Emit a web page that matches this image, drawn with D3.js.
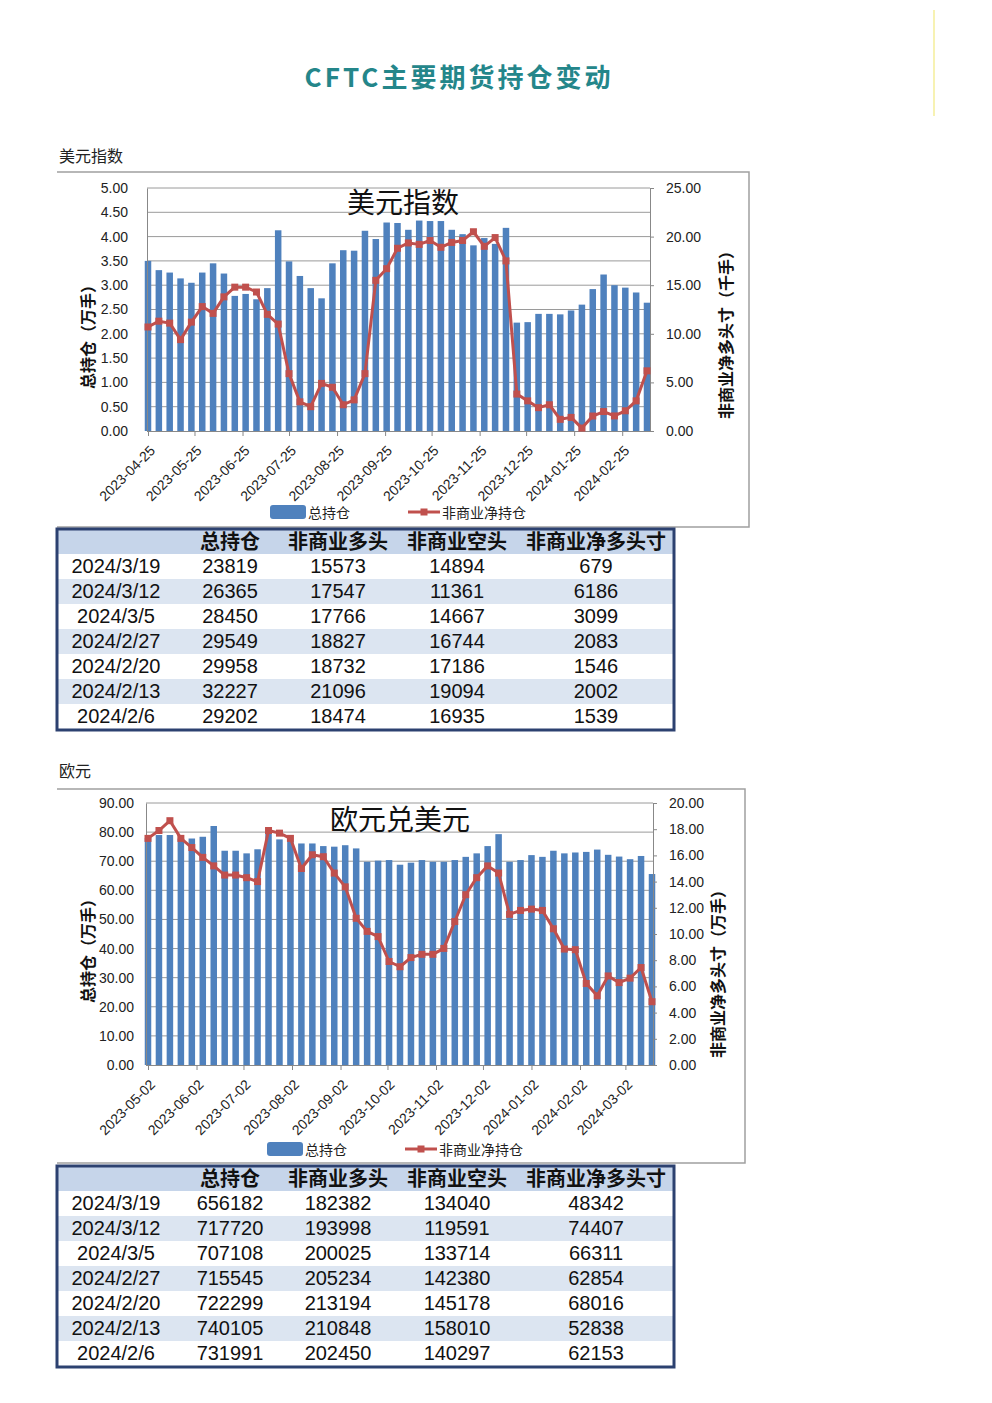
<!DOCTYPE html>
<html>
<head>
<meta charset="utf-8">
<script src="https://cdn.jsdelivr.net/npm/d3@7"></script>
<style>
  body { margin: 0; background: #fff; }
  svg text { font-family: "Liberation Sans", Arial, "Noto Sans CJK SC", sans-serif; fill: #222; }
  .cjk { font-family: "Noto Sans CJK SC", sans-serif; }
</style>
</head>
<body>
<svg id="page" width="992" height="1403"></svg>
<script>
// weekly report dates (CFTC, Tuesdays)
var weeks = ["2023-04-25","2023-05-02","2023-05-09","2023-05-16","2023-05-23","2023-05-30",
  "2023-06-06","2023-06-13","2023-06-20","2023-06-27","2023-07-04","2023-07-11","2023-07-18",
  "2023-07-25","2023-08-01","2023-08-08","2023-08-15","2023-08-22","2023-08-29","2023-09-05",
  "2023-09-12","2023-09-19","2023-09-26","2023-10-03","2023-10-10","2023-10-17","2023-10-24",
  "2023-10-31","2023-11-07","2023-11-14","2023-11-21","2023-11-28","2023-12-05","2023-12-12",
  "2023-12-19","2023-12-26","2024-01-02","2024-01-09","2024-01-16","2024-01-23","2024-01-30",
  "2024-02-06","2024-02-13","2024-02-20","2024-02-27","2024-03-05","2024-03-12","2024-03-19"];

// 美元指数
var usdDates = weeks.slice(0, 47);
var usdTicks = ["2023-04-25","2023-05-25","2023-06-25","2023-07-25","2023-08-25","2023-09-25",
  "2023-10-25","2023-11-25","2023-12-25","2024-01-25","2024-02-25"];
var usdTotal = [3.50,3.31,3.26,3.14,3.05,3.26,3.45,3.24,2.78,2.82,2.71,2.94,
  4.13,3.49,3.19,2.94,2.73,3.45,3.72,3.71,4.12,3.95,4.29,4.28,
  4.14,4.33,4.32,4.32,4.14,4.05,3.82,3.97,3.85,4.18,2.23,2.24,
  2.41,2.41,2.40,2.48,2.60,2.92,3.22,3.00,2.95,2.85,2.64];
var usdNet = [10.7,11.3,11.1,9.4,11.2,12.8,12.1,13.8,14.8,14.8,14.3,12.0,
  11.0,5.9,3.0,2.5,4.9,4.5,2.7,3.2,5.9,15.5,16.7,18.8,
  19.35,19.2,19.6,18.9,19.4,19.6,20.5,19.0,19.9,17.5,3.8,3.1,
  2.4,2.7,1.2,1.4,0.3,1.54,2.0,1.55,2.08,3.1,6.19];

// 欧元兑美元
var eurDates = weeks.slice(1);
var eurTicks = ["2023-05-02","2023-06-02","2023-07-02","2023-08-02","2023-09-02","2023-10-02",
  "2023-11-02","2023-12-02","2024-01-02","2024-02-02","2024-03-02"];
var eurTotal = [78.0,79.0,79.0,77.8,77.8,78.4,82.1,73.6,73.6,72.7,74.1,79.5,
  77.5,77.0,76.1,76.1,75.2,75.0,75.5,74.4,69.8,70.2,70.4,68.8,
  69.5,70.4,69.8,69.8,70.4,71.5,72.7,75.2,79.3,69.8,70.4,72.1,
  71.5,73.6,72.7,73.0,73.2,74.0,72.2,71.6,70.7,71.8,65.6];
var eurNet = [17.3,17.9,18.65,17.3,16.6,15.85,15.2,14.5,14.5,14.3,14.0,17.9,
  17.7,17.3,15.0,16.05,15.9,14.65,13.6,11.2,10.2,9.8,7.9,7.5,
  8.2,8.45,8.45,8.9,10.95,13.0,14.3,15.2,14.65,11.5,11.8,11.9,
  11.8,10.4,8.85,8.8,6.22,5.28,6.80,6.29,6.63,7.44,4.83];

// tables
var tableHead = ["", "总持仓", "非商业多头", "非商业空头", "非商业净多头寸"];
var usdRows = [
  ["2024/3/19", 23819, 15573, 14894, 679],
  ["2024/3/12", 26365, 17547, 11361, 6186],
  ["2024/3/5", 28450, 17766, 14667, 3099],
  ["2024/2/27", 29549, 18827, 16744, 2083],
  ["2024/2/20", 29958, 18732, 17186, 1546],
  ["2024/2/13", 32227, 21096, 19094, 2002],
  ["2024/2/6", 29202, 18474, 16935, 1539]
];
var eurRows = [
  ["2024/3/19", 656182, 182382, 134040, 48342],
  ["2024/3/12", 717720, 193998, 119591, 74407],
  ["2024/3/5", 707108, 200025, 133714, 66311],
  ["2024/2/27", 715545, 205234, 142380, 62854],
  ["2024/2/20", 722299, 213194, 145178, 68016],
  ["2024/2/13", 740105, 210848, 158010, 52838],
  ["2024/2/6", 731991, 202450, 140297, 62153]
];

var parse = d3.timeParse("%Y-%m-%d");
var barColor = "#4f81bd", lineColor = "#c0504d", gridColor = "#9a9a9a";

var svg = d3.select("#page");

// page title
svg.append("text")
  .attr("class", "cjk")
  .attr("x", 459).attr("y", 87)
  .attr("text-anchor", "middle")
  .style("font-size", "26px").style("font-weight", "bold")
  .style("letter-spacing", "3px")
  .style("fill", "#24868a")
  .text("CFTC主要期货持仓变动");

svg.append("line")
  .attr("x1", 934).attr("x2", 934).attr("y1", 10).attr("y2", 116)
  .attr("stroke", "#f5ee9a").attr("stroke-width", 1.5);

function drawChart(o) {
  var g = svg.append("g");
  var dates = o.dates.map(parse);

  var x = d3.scaleTime()
      .domain([dates[0], dates[dates.length - 1]])
      .range([o.x0, o.x1]);
  var yL = d3.scaleLinear().domain([0, o.leftMax]).range([o.yBottom, o.yTop]);
  var yR = d3.scaleLinear().domain([0, o.rightMax]).range([o.yBottom, o.yTop]);

  // frame (top, right, bottom)
  g.append("path")
    .attr("d", "M" + o.fx0 + "," + o.fy0 + "H" + o.fx1 + "V" + o.fy1 + "H" + o.fx0)
    .attr("fill", "none").attr("stroke", "#a0a0a0").attr("stroke-width", 1.5);

  var leftTicks = d3.range(0, o.leftMax + 1e-9, o.leftStep);
  var rightTicks = d3.range(0, o.rightMax + 1e-9, o.rightStep);

  // gridlines
  g.append("g").selectAll("line")
    .data(leftTicks.slice(1))
    .enter().append("line")
    .attr("x1", o.axL).attr("x2", o.axR)
    .attr("y1", function(d){ return yL(d); })
    .attr("y2", function(d){ return yL(d); })
    .attr("stroke", gridColor).attr("stroke-width", 1);

  // bars
  g.append("g").selectAll("rect")
    .data(o.total)
    .enter().append("rect")
    .attr("x", function(d, i){ return x(dates[i]) - o.bw / 2; })
    .attr("y", function(d){ return yL(d); })
    .attr("width", o.bw)
    .attr("height", function(d){ return o.yBottom - yL(d); })
    .attr("fill", barColor);

  // axes
  var left = g.append("g")
    .attr("transform", "translate(" + o.axL + ",0)")
    .call(d3.axisLeft(yL).tickValues(leftTicks).tickFormat(d3.format(".2f"))
      .tickSize(0).tickPadding(o.leftPad));
  left.select(".domain").attr("stroke", "#888");
  left.selectAll("text").style("font-size", "14px").style("fill", "#222");

  var right = g.append("g")
    .attr("transform", "translate(" + o.axR + ",0)")
    .call(d3.axisRight(yR).tickValues(rightTicks).tickFormat(d3.format(".2f"))
      .tickSize(4).tickPadding(12));
  right.select(".domain").attr("stroke", "#888");
  right.selectAll("line").attr("stroke", "#888");
  right.selectAll("text").style("font-size", "14px").style("fill", "#222");

  var bottom = g.append("g")
    .attr("transform", "translate(0," + o.yBottom + ")")
    .call(d3.axisBottom(x).tickValues(o.ticks.map(parse))
      .tickFormat(d3.timeFormat("%Y-%m-%d")).tickSize(5));
  bottom.select(".domain")
    .attr("d", "M" + o.axL + ",0.5H" + o.axR)
    .attr("stroke", "#888");
  bottom.selectAll("line").attr("stroke", "#888");
  bottom.selectAll("text")
    .attr("x", 0).attr("y", 0).attr("dy", "0.35em")
    .attr("text-anchor", "end")
    .attr("transform", "translate(4,17) rotate(-45)")
    .style("font-size", "14px").style("fill", "#222");

  // net position line
  var line = d3.line()
    .x(function(d, i){ return x(dates[i]); })
    .y(function(d){ return yR(d); });
  g.append("path")
    .datum(o.net)
    .attr("d", line)
    .attr("fill", "none").attr("stroke", lineColor).attr("stroke-width", 3)
    .attr("stroke-linejoin", "round");
  g.append("g").selectAll("rect")
    .data(o.net)
    .enter().append("rect")
    .attr("x", function(d, i){ return x(dates[i]) - 3.5; })
    .attr("y", function(d){ return yR(d) - 3.5; })
    .attr("width", 7).attr("height", 7)
    .attr("fill", lineColor);

  // chart title
  g.append("text")
    .attr("class", "cjk")
    .attr("x", o.titleX).attr("y", o.titleY)
    .attr("text-anchor", "middle")
    .style("font-size", "28px").style("fill", "#111")
    .text(o.title);

  // axis titles
  g.append("text")
    .attr("class", "cjk")
    .attr("transform", "translate(" + o.ltX + "," + o.ltY + ") rotate(-90)")
    .attr("text-anchor", "middle")
    .style("font-size", "16px").style("font-weight", "bold").style("fill", "#111")
    .text("总持仓（万手）");
  g.append("text")
    .attr("class", "cjk")
    .attr("transform", "translate(" + o.rtX + "," + o.rtY + ") rotate(-90)")
    .attr("text-anchor", "middle")
    .style("font-size", "16px").style("font-weight", "bold").style("fill", "#111")
    .text(o.rightTitle);

  // legend
  var lg = g.append("g").attr("transform", "translate(" + o.legX + "," + o.legY + ")");
  lg.append("rect").attr("x", 0).attr("y", -7).attr("width", 36).attr("height", 14)
    .attr("rx", 3).attr("fill", barColor);
  lg.append("text").attr("class", "cjk").attr("x", 38).attr("y", 6)
    .style("font-size", "14px").text("总持仓");
  lg.append("line").attr("x1", 138).attr("x2", 170).attr("y1", 0).attr("y2", 0)
    .attr("stroke", lineColor).attr("stroke-width", 3);
  lg.append("rect").attr("x", 150.5).attr("y", -3.5).attr("width", 7).attr("height", 7)
    .attr("fill", lineColor);
  lg.append("text").attr("class", "cjk").attr("x", 172).attr("y", 6)
    .style("font-size", "14px").text("非商业净持仓");
}

function drawTable(rows, top) {
  var g = svg.append("g");
  var left = 57, width = 617, headH = 24, rowH = 25;
  var cols = [116, 230, 338, 457, 596];
  var h = headH + rows.length * rowH + 2;

  g.append("rect").attr("x", left).attr("y", top).attr("width", width).attr("height", headH + 1)
    .attr("fill", "#c6d5ea");
  g.selectAll(".row")
    .data(rows)
    .enter().append("rect")
    .attr("x", left)
    .attr("y", function(d, i){ return top + headH + 1 + i * rowH; })
    .attr("width", width).attr("height", rowH)
    .attr("fill", function(d, i){ return i % 2 ? "#dce5f1" : "#ffffff"; });

  g.selectAll(".head")
    .data(tableHead)
    .enter().append("text")
    .attr("class", "cjk")
    .attr("x", function(d, i){ return cols[i]; })
    .attr("y", top + 20)
    .attr("text-anchor", "middle")
    .style("font-size", "20px").style("font-weight", "bold").style("fill", "#111")
    .text(function(d){ return d; });

  rows.forEach(function(r, i) {
    g.append("g").selectAll("text")
      .data(r)
      .enter().append("text")
      .attr("x", function(d, j){ return cols[j]; })
      .attr("y", top + headH + 1 + i * rowH + 19)
      .attr("text-anchor", "middle")
      .style("font-size", "20px").style("fill", "#111")
      .text(function(d){ return d; });
  });

  g.append("rect").attr("x", left).attr("y", top).attr("width", width).attr("height", h)
    .attr("fill", "none").attr("stroke", "#2c4170").attr("stroke-width", 3);
}

// section labels
svg.append("text").attr("class", "cjk").attr("x", 59).attr("y", 162)
  .style("font-size", "16px").text("美元指数");
svg.append("text").attr("class", "cjk").attr("x", 59).attr("y", 777)
  .style("font-size", "16px").text("欧元");

drawChart({
  dates: usdDates, total: usdTotal, net: usdNet, ticks: usdTicks,
  leftMax: 5, leftStep: 0.5, rightMax: 25, rightStep: 5,
  x0: 148, x1: 647, axL: 147, axR: 650, yTop: 188, yBottom: 431, bw: 6.5,
  leftPad: 19,
  fx0: 57, fy0: 172, fx1: 749, fy1: 527,
  title: "美元指数", titleX: 403, titleY: 213,
  ltX: 94, ltY: 333, rtX: 732, rtY: 331, rightTitle: "非商业净多头寸（千手）",
  legX: 270, legY: 512
});

drawChart({
  dates: eurDates, total: eurTotal, net: eurNet, ticks: eurTicks,
  leftMax: 90, leftStep: 10, rightMax: 20, rightStep: 2,
  x0: 148, x1: 652, axL: 146, axR: 653, yTop: 803, yBottom: 1065, bw: 6.5,
  leftPad: 12,
  fx0: 57, fy0: 789, fx1: 745, fy1: 1163,
  title: "欧元兑美元", titleX: 400, titleY: 830,
  ltX: 94, ltY: 947, rtX: 724, rtY: 970, rightTitle: "非商业净多头寸（万手）",
  legX: 267, legY: 1149
});

drawTable(usdRows, 529);
drawTable(eurRows, 1166);
</script>
</body>
</html>
